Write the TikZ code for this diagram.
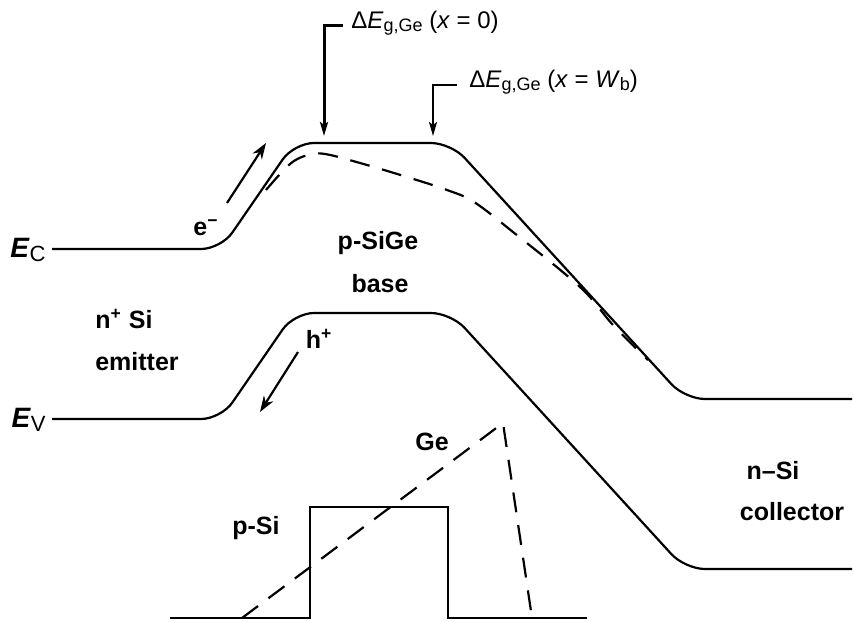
\documentclass[tikz,border=0pt]{standalone}
\usepackage{fontspec}
\setmainfont{Liberation Sans}
\usetikzlibrary{arrows.meta}
\tikzset{
    band/.style={line width=1.1pt,rounded corners=10pt},
    bandshift/.style={line width=1.1pt,dash pattern=on 10pt off 6.5pt},
    profile/.style={line width=1.1pt},
    geprofile/.style={line width=1.1pt,dash pattern=on 10pt off 6.5pt},
    carrier/.style={-{Stealth[length=8pt,width=5.5pt,inset=2.5pt]},line width=1.1pt},
    gapmark/.style={-{Stealth[length=7pt,width=4pt,inset=1.5pt]},line width=1.5pt},
    gapmarkthin/.style={-{Stealth[length=7pt,width=4pt,inset=1.5pt]},line width=0.9pt},
    regionlbl/.style={font=\bfseries\fontsize{12.5}{15}\selectfont,inner sep=0pt},
    gaplbl/.style={font=\fontsize{12}{14}\selectfont,anchor=west,inner sep=0pt},
    levellbl/.style={font=\fontsize{14}{16}\selectfont,anchor=east,inner sep=0pt}
}
\newcommand{\gapsub}[1]{\raisebox{-0.25ex}{\fontsize{9}{10}\selectfont #1}}
\newcommand{\levelsub}[1]{\raisebox{-0.3ex}{\fontsize{11}{12}\selectfont #1}}

\begin{document}
\begin{tikzpicture}[x=0.5pt,y=-0.5pt]
    \useasboundingbox (0,0) rectangle (854,621);
    % Conduction band
    \draw[band] (52,249) -- (221,249) -- (294,143) -- (451,143) -- (685,399) -- (852,399);
    % Conduction band without Ge grading
    \draw[bandshift] plot[smooth,tension=0.6] coordinates {(266,190) (290,164) (308,155) (325,154) (360,163) (407,177) (447,190) (474,202) (513,232) (580,287) (613,325) (648,360)};
    % Valence band
    \draw[band] (52,419) -- (221,419) -- (294,313) -- (451,313) -- (685,569) -- (852,569);
    % Doping and Ge profiles
    \draw[profile] (170,618) -- (310,618) -- (310,507) -- (448,507) -- (448,618) -- (587,618);
    \draw[geprofile] (242,618) -- (503,423) -- (532,618);
    % Band labels
    \node[levellbl] (lblEC) at (46,250) {\textbf{\textit{E}}\levelsub{C}};
    \node[levellbl] (lblEV) at (46,420) {\textbf{\textit{E}}\levelsub{V}};
    % Carriers
    \node[regionlbl] (lblElectron) at (206,228) {e\textsuperscript{−}};
    \node[regionlbl] (lblHole) at (319,339) {h\textsuperscript{+}};
    \coordinate (eTail) at (227,203);
    \coordinate (eHead) at (266,143);
    \draw[carrier] (eTail) -- (eHead);
    \coordinate (hTail) at (298,352);
    \coordinate (hHead) at (260,412);
    \draw[carrier] (hTail) -- (hHead);
    % Regions
    \node[regionlbl] (lblNSi) at (124,319) {n\textsuperscript{+} Si};
    \node[regionlbl] (lblEmitter) at (137,362) {emitter};
    \node[regionlbl] (lblSiGe) at (378,243) {p-SiGe};
    \node[regionlbl] (lblBase) at (380,284) {base};
    \node[regionlbl] (lblCollN) at (773,471) {n–Si};
    \node[regionlbl] (lblCollector) at (792,512) {collector};
    \node[regionlbl] (lblGe) at (432,442) {Ge};
    \node[regionlbl] (lblPSi) at (256,528) {p-Si};
    % Band offsets
    \node[gaplbl] (gapA) at (351,23) {Δ\textit{E}\gapsub{g,Ge} (\textit{x} = 0)};
    \node[gaplbl] (gapB) at (469,82) {Δ\textit{E}\gapsub{g,Ge} (\textit{x} = \textit{W}\gapsub{b})};
    \coordinate (gapAtip) at (324,136);
    \coordinate (gapBtip) at (433,136);
    \draw[gapmark] ([xshift=-4pt,yshift=-1pt]gapA.west) -| (gapAtip);
    \draw[gapmarkthin] ([xshift=-6pt,yshift=-1.5pt]gapB.west) -| (gapBtip);
\end{tikzpicture}
\end{document}
